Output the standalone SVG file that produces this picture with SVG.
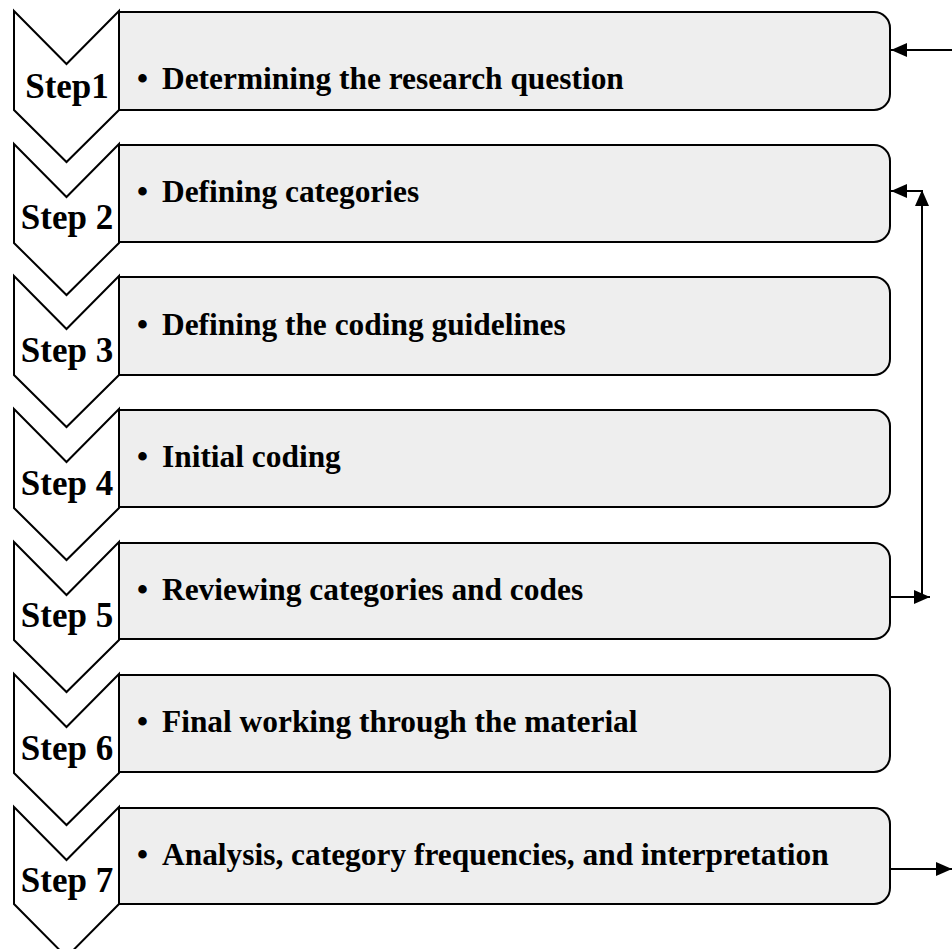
<svg xmlns="http://www.w3.org/2000/svg" width="952" height="949" viewBox="0 0 952 949">
<defs>
<style>
.chev{fill:#ffffff;stroke:#000;stroke-width:2;stroke-linejoin:miter}
.box{fill:#eeeeee;stroke:#000;stroke-width:2}
.lbl{font-family:"Liberation Serif","Times New Roman",serif;font-weight:bold;font-size:35px;fill:#000;text-anchor:middle}
.txt{font-family:"Liberation Serif","Times New Roman",serif;font-weight:bold;font-size:31.4px;fill:#000}
.conn{fill:none;stroke:#000;stroke-width:2}
</style>
<marker id="ah" markerUnits="userSpaceOnUse" markerWidth="17" markerHeight="14" refX="16" refY="7" orient="auto">
<path d="M0,0 L16,7 L0,14 z" fill="#000"/>
</marker>
</defs>
<rect width="952" height="949" fill="#ffffff"/>

<g id="step1">
<path class="box" d="M119,12 H874 A16,16 0 0 1 890,28 V94 A16,16 0 0 1 874,110 H119 Z"/>
<polygon class="chev" points="14,11 66.5,64 119,11 119,110 66.5,162 14,110"/>
<text class="lbl" x="67" y="98">Step1</text>
<text class="txt" y="89"><tspan x="137">•</tspan><tspan x="162">Determining the research question</tspan></text>
</g>

<g id="step2">
<path class="box" d="M119,145 H874 A16,16 0 0 1 890,161 V226 A16,16 0 0 1 874,242 H119 Z"/>
<polygon class="chev" points="14,144 66.5,197 119,144 119,243 66.5,295 14,243"/>
<text class="lbl" x="67" y="229">Step 2</text>
<text class="txt" y="202"><tspan x="137">•</tspan><tspan x="162">Defining categories</tspan></text>
</g>

<g id="step3">
<path class="box" d="M119,277 H874 A16,16 0 0 1 890,293 V359 A16,16 0 0 1 874,375 H119 Z"/>
<polygon class="chev" points="14,276 66.5,329 119,276 119,375 66.5,427 14,375"/>
<text class="lbl" x="67" y="362">Step 3</text>
<text class="txt" y="335"><tspan x="137">•</tspan><tspan x="162">Defining the coding guidelines</tspan></text>
</g>

<g id="step4">
<path class="box" d="M119,410 H874 A16,16 0 0 1 890,426 V491 A16,16 0 0 1 874,507 H119 Z"/>
<polygon class="chev" points="14,409 66.5,462 119,409 119,508 66.5,560 14,508"/>
<text class="lbl" x="67" y="495">Step 4</text>
<text class="txt" y="467"><tspan x="137">•</tspan><tspan x="162">Initial coding</tspan></text>
</g>

<g id="step5">
<path class="box" d="M119,543 H874 A16,16 0 0 1 890,559 V623 A16,16 0 0 1 874,639 H119 Z"/>
<polygon class="chev" points="14,542 66.5,595 119,542 119,640 66.5,692 14,640"/>
<text class="lbl" x="67" y="627">Step 5</text>
<text class="txt" y="600"><tspan x="137">•</tspan><tspan x="162">Reviewing categories and codes</tspan></text>
</g>

<g id="step6">
<path class="box" d="M119,675 H874 A16,16 0 0 1 890,691 V756 A16,16 0 0 1 874,772 H119 Z"/>
<polygon class="chev" points="14,674 66.5,727 119,674 119,773 66.5,825 14,773"/>
<text class="lbl" x="67" y="760">Step 6</text>
<text class="txt" y="732"><tspan x="137">•</tspan><tspan x="162">Final working through the material</tspan></text>
</g>

<g id="step7">
<path class="box" d="M119,808 H874 A16,16 0 0 1 890,824 V888 A16,16 0 0 1 874,904 H119 Z"/>
<polygon class="chev" points="14,807 66.5,860 119,807 119,904 66.5,957 14,904"/>
<text class="lbl" x="67" y="892">Step 7</text>
<text class="txt" y="865"><tspan x="137">•</tspan><tspan x="162">Analysis, category frequencies, and interpretation</tspan></text>
</g>

<g id="connectors">
<line class="conn" x1="952" y1="50" x2="891" y2="50" marker-end="url(#ah)"/>
<line class="conn" x1="890" y1="597" x2="930" y2="597" marker-end="url(#ah)"/>
<line class="conn" x1="922" y1="597" x2="922" y2="190" marker-end="url(#ah)"/>
<line class="conn" x1="922" y1="191" x2="891" y2="191" marker-end="url(#ah)"/>
<line class="conn" x1="890" y1="869" x2="952" y2="869" marker-end="url(#ah)"/>
</g>
</svg>
